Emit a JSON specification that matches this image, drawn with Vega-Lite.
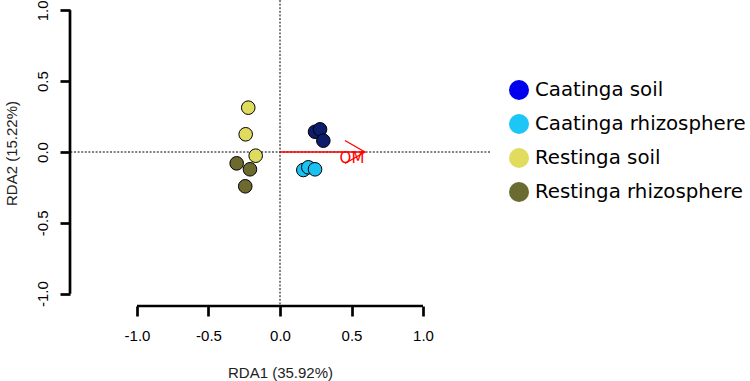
{
  "$schema": "https://vega.github.io/schema/vega-lite/v6.json",
  "width": 420,
  "height": 306,
  "autosize": {"type": "none"},
  "padding": {"left": 70, "top": 0, "right": 260, "bottom": 75},
  "background": "white",
  "config": {
    "view": {"stroke": null},
    "font": "Liberation Sans"
  },
  "datasets": {
    "sites": [
      {"group": "Caatinga soil", "RDA1": 0.245, "RDA2": 0.143},
      {"group": "Caatinga soil", "RDA1": 0.280, "RDA2": 0.160},
      {"group": "Caatinga soil", "RDA1": 0.303, "RDA2": 0.080},
      {"group": "Caatinga rhizosphere", "RDA1": 0.163, "RDA2": -0.127},
      {"group": "Caatinga rhizosphere", "RDA1": 0.198, "RDA2": -0.108},
      {"group": "Caatinga rhizosphere", "RDA1": 0.245, "RDA2": -0.122},
      {"group": "Restinga soil", "RDA1": -0.222, "RDA2": 0.313},
      {"group": "Restinga soil", "RDA1": -0.240, "RDA2": 0.125},
      {"group": "Restinga soil", "RDA1": -0.170, "RDA2": -0.026},
      {"group": "Restinga rhizosphere", "RDA1": -0.303, "RDA2": -0.080},
      {"group": "Restinga rhizosphere", "RDA1": -0.210, "RDA2": -0.122},
      {"group": "Restinga rhizosphere", "RDA1": -0.243, "RDA2": -0.242}
    ],
    "biplot": [
      {"variable": "OM", "x0": 0, "y0": 0, "RDA1": 0.594, "RDA2": 0.0}
    ],
    "frame": [
      {"side": "bottom", "from": -1, "to": 1, "at": -1.087},
      {"side": "left", "from": -1, "to": 1, "at": -1.4685}
    ]
  },
  "layer": [
    {
      "data": {"values": [{}]},
      "mark": {"type": "rule", "color": "black", "strokeWidth": 1, "strokeDash": [2, 1.6]},
      "encoding": {
        "y": {"datum": 0, "type": "quantitative", "scale": {"domain": [-1.087, 1.073], "nice": false, "zero": false}}
      }
    },
    {
      "data": {"values": [{}]},
      "mark": {"type": "rule", "color": "black", "strokeWidth": 1, "strokeDash": [2, 1.6]},
      "encoding": {
        "x": {"datum": 0, "type": "quantitative", "scale": {"domain": [-1.4685, 1.4685], "nice": false, "zero": false}}
      }
    },
    {
      "data": {"name": "sites"},
      "mark": {"type": "point", "shape": "circle", "filled": true, "opacity": 0},
      "encoding": {
        "x": {"field": "RDA1", "type": "quantitative", "scale": {"domain": [-1.4685, 1.4685], "nice": false, "zero": false}},
        "y": {"field": "RDA2", "type": "quantitative", "scale": {"domain": [-1.087, 1.073], "nice": false, "zero": false}},
        "color": {
          "field": "group",
          "type": "nominal",
          "scale": {
            "domain": ["Caatinga soil", "Caatinga rhizosphere", "Restinga soil", "Restinga rhizosphere"],
            "range": ["#0000ee", "#1cc6f6", "#e2dc5e", "#6b6a30"]
          },
          "legend": {
            "orient": "none",
            "legendX": 439,
            "legendY": 80,
            "title": null,
            "padding": 0,
            "symbolType": "circle",
            "symbolSize": 400,
            "symbolStrokeWidth": 0,
            "symbolOpacity": 1,
            "labelFont": "DejaVu Sans",
            "labelFontSize": 19.8,
            "labelColor": "black",
            "labelOffset": 6,
            "labelLimit": 400,
            "rowPadding": 14
          }
        }
      }
    },
    {
      "data": {"name": "biplot"},
      "mark": {"type": "rule", "color": "#ff0000", "strokeWidth": 1.3},
      "encoding": {
        "x": {"field": "x0", "type": "quantitative", "scale": {"domain": [-1.4685, 1.4685], "nice": false, "zero": false}},
        "y": {"field": "y0", "type": "quantitative", "scale": {"domain": [-1.087, 1.073], "nice": false, "zero": false}},
        "x2": {"field": "RDA1"},
        "y2": {"field": "RDA2"}
      }
    },
    {
      "data": {"name": "biplot"},
      "mark": {"type": "point", "shape": "M-1,-0.575L0,0L-1,0.575", "size": 1600, "filled": false, "stroke": "#ff0000", "strokeWidth": 1.3, "opacity": 1},
      "encoding": {
        "x": {"field": "RDA1", "type": "quantitative", "scale": {"domain": [-1.4685, 1.4685], "nice": false, "zero": false}},
        "y": {"field": "RDA2", "type": "quantitative", "scale": {"domain": [-1.087, 1.073], "nice": false, "zero": false}}
      }
    },
    {
      "data": {"name": "biplot"},
      "mark": {"type": "text", "font": "DejaVu Sans", "fontSize": 15, "color": "#ff0000", "align": "center", "baseline": "middle", "dx": -13, "dy": 5.5},
      "encoding": {
        "x": {"field": "RDA1", "type": "quantitative", "scale": {"domain": [-1.4685, 1.4685], "nice": false, "zero": false}},
        "y": {"field": "RDA2", "type": "quantitative", "scale": {"domain": [-1.087, 1.073], "nice": false, "zero": false}},
        "text": {"field": "variable"}
      }
    },
    {
      "data": {"name": "sites"},
      "mark": {"type": "point", "shape": "circle", "filled": true, "size": 185, "stroke": "black", "strokeWidth": 1, "opacity": 1},
      "encoding": {
        "x": {
          "field": "RDA1",
          "type": "quantitative",
          "scale": {"domain": [-1.4685, 1.4685], "nice": false, "zero": false},
          "axis": {
            "orient": "bottom",
            "values": [-1, -0.5, 0, 0.5, 1],
            "labelExpr": "(datum.value < 0 ? '-' : '') + format(abs(datum.value), '.1f')",
            "domain": false,
            "grid": false,
            "ticks": true,
            "tickSize": 10,
            "tickWidth": 2.7,
            "tickColor": "black",
            "labelFont": "Liberation Sans",
            "labelFontSize": 15,
            "labelColor": "black",
            "labelPadding": 12,
            "labelFlush": false,
            "labelOverlap": false,
            "title": "RDA1 (35.92%)",
            "titleFont": "Liberation Sans",
            "titleFontSize": 15,
            "titleFontWeight": "normal",
            "titleColor": "#222222",
            "titlePadding": 22
          }
        },
        "y": {
          "field": "RDA2",
          "type": "quantitative",
          "scale": {"domain": [-1.087, 1.073], "nice": false, "zero": false},
          "axis": {
            "orient": "left",
            "values": [-1, -0.5, 0, 0.5, 1],
            "labelExpr": "(datum.value < 0 ? '-' : '') + format(abs(datum.value), '.1f')",
            "domain": false,
            "grid": false,
            "ticks": true,
            "tickSize": 10,
            "tickWidth": 2.7,
            "tickColor": "black",
            "labelFont": "Liberation Sans",
            "labelFontSize": 15,
            "labelColor": "black",
            "labelAngle": -90,
            "labelAlign": "center",
            "labelBaseline": "bottom",
            "labelPadding": 10,
            "labelFlush": false,
            "labelOverlap": false,
            "title": "RDA2 (15.22%)",
            "titleFont": "Liberation Sans",
            "titleFontSize": 15,
            "titleFontWeight": "normal",
            "titleColor": "#222222",
            "titlePadding": 16
          }
        },
        "fill": {
          "field": "group",
          "type": "nominal",
          "scale": {
            "domain": ["Caatinga soil", "Caatinga rhizosphere", "Restinga soil", "Restinga rhizosphere"],
            "range": ["#0b1d6b", "#1ac2f2", "#dfdb5f", "#6d6a30"]
          },
          "legend": null
        }
      }
    },
    {
      "data": {"name": "frame"},
      "transform": [{"filter": "datum.side === 'bottom'"}],
      "mark": {"type": "rule", "color": "black", "strokeWidth": 2.7},
      "encoding": {
        "x": {"field": "from", "type": "quantitative", "scale": {"domain": [-1.4685, 1.4685], "nice": false, "zero": false}},
        "x2": {"field": "to"},
        "y": {"field": "at", "type": "quantitative", "scale": {"domain": [-1.087, 1.073], "nice": false, "zero": false}}
      }
    },
    {
      "data": {"name": "frame"},
      "transform": [{"filter": "datum.side === 'left'"}],
      "mark": {"type": "rule", "color": "black", "strokeWidth": 2.7},
      "encoding": {
        "x": {"field": "at", "type": "quantitative", "scale": {"domain": [-1.4685, 1.4685], "nice": false, "zero": false}},
        "y": {"field": "from", "type": "quantitative", "scale": {"domain": [-1.087, 1.073], "nice": false, "zero": false}},
        "y2": {"field": "to"}
      }
    }
  ]
}
